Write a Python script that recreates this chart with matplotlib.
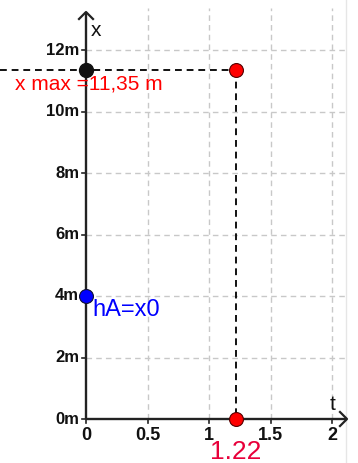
import matplotlib
matplotlib.use("Agg")
import matplotlib.pyplot as plt
import numpy as np

# data
t_max = 1.22
x_max = 11.35
x0 = 4.0
y_ticks = [0, 2, 4, 6, 8, 10, 12]
y_tick_labels = ["0m", "2m", "4m", "6m", "8m", "10m", "12m"]
x_ticks = [0, 0.5, 1, 1.5, 2]
x_tick_labels = ["0", "0.5", "1", "1.5", "2"]

W, H = 358, 463
fig = plt.figure(figsize=(W/100, H/100), dpi=100)
ax = fig.add_axes([0, 0, 1, 1])
ax.set_xlim(-86/123, (W-86)/123)
ax.set_ylim(-(H-419)/30.75, 419/30.75)
ax.axis("off")

font = ["Liberation Sans", "DejaVu Sans"]
grid_kw = dict(color="#c8c8c8", lw=1.0, ls=(0, (4, 3)), zorder=1)
xg_top = (419-8)/30.75
yg_right = (345-86)/123
ax.vlines([v for v in x_ticks if v > 0], 0, xg_top, **grid_kw)
ax.hlines([v for v in y_ticks if v > 0], 0, yg_right, **grid_kw)

# faint right border
ax.axvline((346-86)/123, color="#e6e6e6", lw=1, zorder=0)

# axes
x_end = (347-86)/123
y_end = (419-12)/30.75
ax.plot([0, x_end], [0, 0], color="#222222", lw=1.7, zorder=3, solid_capstyle="butt")
ax.plot([0, 0], [0, y_end], color="#222222", lw=1.7, zorder=3, solid_capstyle="butt")
# arrow heads (open chevrons)
ax.plot([x_end-7/123, x_end, x_end-7/123], [7/30.75, 0, -7/30.75], color="#222222", lw=1.6, zorder=3)
ax.plot([-7/123, 0, 7/123], [y_end-7/30.75, y_end, y_end-7/30.75], color="#222222", lw=1.6, zorder=3)

# ticks
for v, lab in zip(y_ticks, y_tick_labels):
    ax.plot([-4/123, 0], [v, v], color="#222222", lw=1.2, zorder=3)
    ax.text(-7/123, v, lab, ha="right", va="center", fontsize=12, fontweight="bold", family=font, color="#111111")
for v, lab in zip(x_ticks, x_tick_labels):
    ax.plot([v, v], [0, -4/30.75], color="#222222", lw=1.2, zorder=3)
    ax.text(v, -16/30.75, lab, ha="center", va="center", fontsize=13, fontweight="bold", family=font, color="#111111")

ax.text(10/123, (419-30)/30.75, "x", ha="center", va="center", fontsize=15, family=font, color="#111111")
ax.text((333-86)/123, (419-405)/30.75, "t", ha="center", va="center", fontsize=15, family=font, color="#111111")

# dashed guides
ax.plot([-86/123, t_max], [x_max, x_max], color="#111111", lw=1.4, ls=(0, (3.5, 2.5)), zorder=2)
ax.plot([t_max, t_max], [x_max, 0], color="#111111", lw=1.4, ls=(0, (3.5, 2.5)), zorder=2)

# points
ax.plot([0], [x_max], "o", ms=10, mfc="#111111", mec="#111111", zorder=5)
ax.plot([0], [x0], "o", ms=10, mfc="#0000ff", mec="#111133", mew=0.8, zorder=5)
ax.plot([t_max, t_max], [x_max, 0], "o", ls="none", ms=10, mfc="#ff0000", mec="#550000", mew=0.8, zorder=5)

# labels
ax.text(15/123 - 86/123, x_max - 14/30.75, "x max =11,35 m", ha="left", va="center", fontsize=15, family=font, color="#ff0000")
ax.text(6/123, x0 - 14/30.75, "hA=x0", ha="left", va="center", fontsize=17, family=font, color="#0000ff")
ax.text(t_max, -33/30.75, "1.22", ha="center", va="center", fontsize=19, family=font, color="#e8003a")

fig.savefig("out.png", dpi=100)
